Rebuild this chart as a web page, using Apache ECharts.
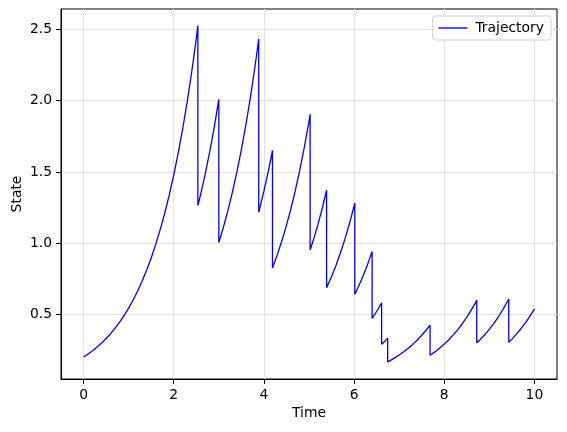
<!DOCTYPE html>
<html>
<head>
<meta charset="utf-8">
<script src="https://cdn.jsdelivr.net/npm/echarts@6/dist/echarts.min.js"></script>
<style>html,body{margin:0;padding:0;background:#fff}#c{width:567px;height:432px}</style>
</head>
<body>
<div id="c"></div>
<script>
const seriesName = 'Trajectory';
const times = [
  0,0.1,0.2,0.3,0.4,0.5,0.6,0.7,0.8,0.9,1.0,1.1,1.2,1.3,1.4,1.5,1.6,1.7,1.8,1.9,2.0,2.1,2.2,2.3,2.4,2.5,2.535,
  2.535,2.6,2.7,2.8,2.9,3.0,
  3.0,3.1,3.2,3.3,3.4,3.5,3.6,3.7,3.8,3.885,
  3.885,3.9,4.0,4.1,4.19,
  4.19,4.2,4.3,4.4,4.5,4.6,4.7,4.8,4.9,5.0,5.025,
  5.025,5.1,5.2,5.3,5.39,
  5.39,5.4,5.5,5.6,5.7,5.8,5.9,6.0,6.015,
  6.015,6.1,6.2,6.3,6.4,
  6.4,6.5,6.61,
  6.61,6.7,6.745,
  6.745,6.8,6.9,7.0,7.1,7.2,7.3,7.4,7.5,7.6,7.685,
  7.685,7.7,7.8,7.9,8.0,8.1,8.2,8.3,8.4,8.5,8.6,8.7,8.72,
  8.72,8.8,8.9,9.0,9.1,9.2,9.3,9.4,9.43,
  9.43,9.5,9.6,9.7,9.8,9.9,10.0
];
const states = [
  0.200,0.221,0.244,0.270,0.298,0.330,0.364,0.403,0.445,0.492,0.544,0.601,0.664,0.734,0.811,0.896,0.991,1.095,1.210,1.337,1.478,1.633,1.805,1.995,2.205,2.436,2.528,
  1.264,1.346,1.488,1.644,1.817,2.009,
  1.004,1.110,1.227,1.356,1.498,1.656,1.830,2.022,2.235,2.433,
  1.217,1.235,1.365,1.508,1.651,
  0.825,0.834,0.921,1.018,1.125,1.243,1.374,1.519,1.679,1.855,1.905,
  0.952,1.025,1.133,1.252,1.372,
  0.686,0.692,0.765,0.845,0.934,1.032,1.141,1.261,1.281,
  0.640,0.697,0.770,0.851,0.942,
  0.471,0.520,0.581,
  0.290,0.317,0.332,
  0.166,0.175,0.194,0.214,0.237,0.262,0.289,0.320,0.353,0.390,0.425,
  0.2125,0.216,0.238,0.264,0.291,0.322,0.356,0.393,0.434,0.480,0.531,0.586,0.601,
  0.300,0.324,0.358,0.396,0.437,0.483,0.534,0.590,0.608,
  0.304,0.326,0.361,0.399,0.440,0.487,0.538
];
const xTicks = [0, 2, 4, 6, 8, 10];
const yTicks = [0.5, 1.0, 1.5, 2.0, 2.5];

const points = times.map((t, i) => [t, states[i]]);
const font = 'DejaVu Sans';
const chart = echarts.init(document.getElementById('c'), null, {renderer: 'canvas'});
chart.setOption({
  animation: false,
  backgroundColor: '#ffffff',
  textStyle: {fontFamily: font},
  grid: {left: 61, top: 9, right: 10, bottom: 53, containLabel: false, outerBoundsMode: 'none', show: true, borderColor: '#000', borderWidth: 1, backgroundColor: 'transparent'},
  legend: {
    show: true, right: 16, top: 16,
    data: [seriesName],
    icon: 'path://M0,0 L30,0 L30,1.4 L0,1.4 Z',
    itemWidth: 29, itemHeight: 1.4, itemGap: 8,
    padding: [5, 7, 5, 6],
    borderColor: '#d0d0d0', borderWidth: 1, borderRadius: 3,
    backgroundColor: 'rgba(255,255,255,0.8)',
    textStyle: {fontFamily: font, fontSize: 13.9, color: '#000', padding: [0, 0, 0, 3]}
  },
  xAxis: {
    type: 'value', min: -0.5, max: 10.5,
    name: 'Time', nameLocation: 'middle', nameGap: 27, nameMoveOverlap: false,
    nameTextStyle: {fontFamily: font, fontSize: 13.9, color: '#000'},
    axisLine: {show: true, onZero: false, lineStyle: {color: '#000', width: 1}},
    axisTick: {show: true, inside: false, length: 5, customValues: xTicks, lineStyle: {color: '#000', width: 1}},
    axisLabel: {show: true, margin: 9, customValues: xTicks, fontFamily: font, fontSize: 13.9, color: '#000', formatter: v => String(v)},
    splitLine: {show: true, customValues: xTicks, lineStyle: {color: '#e3e3e3', width: 1}}
  },
  yAxis: {
    type: 'value', min: 0.046, max: 2.644,
    name: 'State', nameLocation: 'middle', nameGap: 37, nameRotate: 90, nameMoveOverlap: false,
    nameTextStyle: {fontFamily: font, fontSize: 13.9, color: '#000'},
    axisLine: {show: true, onZero: false, lineStyle: {color: '#000', width: 1}},
    axisTick: {show: true, inside: false, length: 5, customValues: yTicks, lineStyle: {color: '#000', width: 1}},
    axisLabel: {show: true, margin: 9, customValues: yTicks, fontFamily: font, fontSize: 13.9, color: '#000', formatter: v => v.toFixed(1)},
    splitLine: {show: true, customValues: yTicks, lineStyle: {color: '#e3e3e3', width: 1}}
  },
  series: [{
    name: seriesName,
    type: 'line',
    data: points,
    symbol: 'none',
    showSymbol: false,
    smooth: false,
    lineStyle: {color: '#0000ff', width: 1.3},
    itemStyle: {color: '#0000ff'},
    z: 3
  }]
});
</script>
</body>
</html>
